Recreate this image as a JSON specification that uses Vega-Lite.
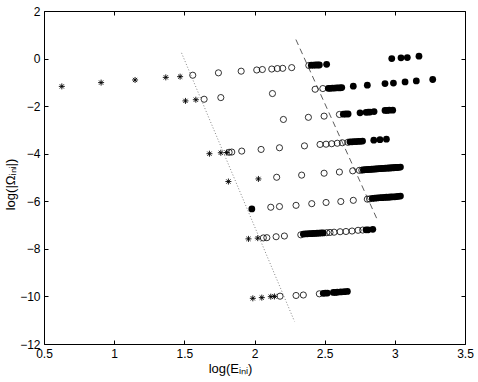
{
  "$schema": "https://vega.github.io/schema/vega-lite/v6.json",
  "width": 421,
  "height": 333,
  "autosize": {"type": "none"},
  "padding": {"left": 44, "top": 11, "right": 13, "bottom": 38},
  "background": "white",
  "config": {
    "view": {"stroke": "#000", "strokeWidth": 1},
    "axis": {
      "grid": false,
      "domain": false,
      "tickColor": "#000",
      "tickSize": -4,
      "labelFlush": false,
      "labelOverlap": false,
      "labelFont": "Liberation Sans",
      "labelFontSize": 12,
      "labelColor": "#000",
      "titleFont": "Liberation Sans",
      "titleFontSize": 13,
      "titleFontWeight": "normal",
      "titleColor": "#000"
    }
  },
  "data": {
    "values": [
      {"e": 1.48, "w": 0.24, "k": "dotted"},
      {"e": 2.285, "w": -11.05, "k": "dotted"},
      {"e": 2.295, "w": 0.80, "k": "dashed"},
      {"e": 2.877, "w": -6.80, "k": "dashed"},

      {"e": 1.560, "w": -0.70, "k": "open"},
      {"e": 1.743, "w": -0.60, "k": "open"},
      {"e": 1.905, "w": -0.53, "k": "open"},
      {"e": 2.016, "w": -0.48, "k": "open"},
      {"e": 2.056, "w": -0.46, "k": "open"},
      {"e": 2.123, "w": -0.44, "k": "open"},
      {"e": 2.163, "w": -0.42, "k": "open"},
      {"e": 2.201, "w": -0.41, "k": "open"},
      {"e": 2.265, "w": -0.38, "k": "open"},
      {"e": 2.387, "w": -0.29, "k": "open"},
      {"e": 2.432, "w": -1.29, "k": "open"},
      {"e": 2.487, "w": -1.26, "k": "open"},
      {"e": 1.641, "w": -1.71, "k": "open"},
      {"e": 1.760, "w": -1.64, "k": "open"},
      {"e": 2.128, "w": -1.47, "k": "open"},
      {"e": 2.206, "w": -2.56, "k": "open"},
      {"e": 2.384, "w": -2.47, "k": "open"},
      {"e": 2.496, "w": -2.42, "k": "open"},
      {"e": 2.605, "w": -2.35, "k": "open"},
      {"e": 1.819, "w": -3.94, "k": "open"},
      {"e": 1.838, "w": -3.93, "k": "open"},
      {"e": 1.909, "w": -3.89, "k": "open"},
      {"e": 2.047, "w": -3.82, "k": "open"},
      {"e": 2.178, "w": -3.75, "k": "open"},
      {"e": 2.356, "w": -3.67, "k": "open"},
      {"e": 2.467, "w": -3.61, "k": "open"},
      {"e": 2.510, "w": -3.60, "k": "open"},
      {"e": 2.550, "w": -3.58, "k": "open"},
      {"e": 2.590, "w": -3.56, "k": "open"},
      {"e": 2.626, "w": -3.54, "k": "open"},
      {"e": 2.665, "w": -3.52, "k": "open"},
      {"e": 2.158, "w": -4.99, "k": "open"},
      {"e": 2.336, "w": -4.90, "k": "open"},
      {"e": 2.496, "w": -4.82, "k": "open"},
      {"e": 2.605, "w": -4.77, "k": "open"},
      {"e": 2.700, "w": -4.72, "k": "open"},
      {"e": 2.747, "w": -4.70, "k": "open"},
      {"e": 2.765, "w": -4.69, "k": "open"},
      {"e": 2.116, "w": -6.25, "k": "open"},
      {"e": 2.178, "w": -6.22, "k": "open"},
      {"e": 2.296, "w": -6.17, "k": "open"},
      {"e": 2.408, "w": -6.10, "k": "open"},
      {"e": 2.510, "w": -6.05, "k": "open"},
      {"e": 2.615, "w": -6.01, "k": "open"},
      {"e": 2.704, "w": -5.96, "k": "open"},
      {"e": 2.804, "w": -5.91, "k": "open"},
      {"e": 2.820, "w": -5.90, "k": "open"},
      {"e": 2.063, "w": -7.54, "k": "open"},
      {"e": 2.088, "w": -7.53, "k": "open"},
      {"e": 2.154, "w": -7.49, "k": "open"},
      {"e": 2.213, "w": -7.46, "k": "open"},
      {"e": 2.330, "w": -7.41, "k": "open"},
      {"e": 2.515, "w": -7.32, "k": "open"},
      {"e": 2.538, "w": -7.31, "k": "open"},
      {"e": 2.567, "w": -7.30, "k": "open"},
      {"e": 2.610, "w": -7.28, "k": "open"},
      {"e": 2.652, "w": -7.27, "k": "open"},
      {"e": 2.695, "w": -7.25, "k": "open"},
      {"e": 2.738, "w": -7.22, "k": "open"},
      {"e": 2.771, "w": -7.21, "k": "open"},
      {"e": 2.182, "w": -9.99, "k": "open"},
      {"e": 2.296, "w": -9.96, "k": "open"},
      {"e": 2.348, "w": -9.94, "k": "open"},
      {"e": 2.462, "w": -9.89, "k": "open"},

      {"e": 2.405, "w": -0.28, "k": "filled"},
      {"e": 2.420, "w": -0.28, "k": "filled"},
      {"e": 2.435, "w": -0.27, "k": "filled"},
      {"e": 2.450, "w": -0.27, "k": "filled"},
      {"e": 2.462, "w": -0.27, "k": "filled"},
      {"e": 2.514, "w": -0.24, "k": "filled"},
      {"e": 2.978, "w": 0.00, "k": "filled"},
      {"e": 3.044, "w": 0.03, "k": "filled"},
      {"e": 3.089, "w": 0.04, "k": "filled"},
      {"e": 3.172, "w": 0.10, "k": "filled"},
      {"e": 2.526, "w": -1.25, "k": "filled"},
      {"e": 2.540, "w": -1.25, "k": "filled"},
      {"e": 2.555, "w": -1.24, "k": "filled"},
      {"e": 2.570, "w": -1.24, "k": "filled"},
      {"e": 2.585, "w": -1.23, "k": "filled"},
      {"e": 2.600, "w": -1.23, "k": "filled"},
      {"e": 2.612, "w": -1.23, "k": "filled"},
      {"e": 2.622, "w": -1.22, "k": "filled"},
      {"e": 2.704, "w": -1.16, "k": "filled"},
      {"e": 2.804, "w": -1.12, "k": "filled"},
      {"e": 2.930, "w": -1.05, "k": "filled"},
      {"e": 2.990, "w": -1.03, "k": "filled"},
      {"e": 3.073, "w": -0.98, "k": "filled"},
      {"e": 3.153, "w": -0.94, "k": "filled"},
      {"e": 3.270, "w": -0.88, "k": "filled"},
      {"e": 2.633, "w": -2.34, "k": "filled"},
      {"e": 2.650, "w": -2.33, "k": "filled"},
      {"e": 2.667, "w": -2.33, "k": "filled"},
      {"e": 2.752, "w": -2.28, "k": "filled"},
      {"e": 2.795, "w": -2.26, "k": "filled"},
      {"e": 2.810, "w": -2.25, "k": "filled"},
      {"e": 2.823, "w": -2.25, "k": "filled"},
      {"e": 2.852, "w": -2.23, "k": "filled"},
      {"e": 2.930, "w": -2.18, "k": "filled"},
      {"e": 2.945, "w": -2.18, "k": "filled"},
      {"e": 2.960, "w": -2.17, "k": "filled"},
      {"e": 2.985, "w": -2.17, "k": "filled"},
      {"e": 2.680, "w": -3.50, "k": "filled"},
      {"e": 2.695, "w": -3.50, "k": "filled"},
      {"e": 2.710, "w": -3.49, "k": "filled"},
      {"e": 2.725, "w": -3.49, "k": "filled"},
      {"e": 2.740, "w": -3.48, "k": "filled"},
      {"e": 2.755, "w": -3.48, "k": "filled"},
      {"e": 2.770, "w": -3.47, "k": "filled"},
      {"e": 2.850, "w": -3.43, "k": "filled"},
      {"e": 2.894, "w": -3.41, "k": "filled"},
      {"e": 2.940, "w": -3.39, "k": "filled"},
      {"e": 2.776, "w": -4.68, "k": "filled"},
      {"e": 2.788, "w": -4.67, "k": "filled"},
      {"e": 2.800, "w": -4.67, "k": "filled"},
      {"e": 2.812, "w": -4.66, "k": "filled"},
      {"e": 2.824, "w": -4.66, "k": "filled"},
      {"e": 2.836, "w": -4.65, "k": "filled"},
      {"e": 2.848, "w": -4.65, "k": "filled"},
      {"e": 2.860, "w": -4.64, "k": "filled"},
      {"e": 2.872, "w": -4.64, "k": "filled"},
      {"e": 2.884, "w": -4.63, "k": "filled"},
      {"e": 2.896, "w": -4.63, "k": "filled"},
      {"e": 2.908, "w": -4.62, "k": "filled"},
      {"e": 2.920, "w": -4.62, "k": "filled"},
      {"e": 2.932, "w": -4.61, "k": "filled"},
      {"e": 2.944, "w": -4.61, "k": "filled"},
      {"e": 2.956, "w": -4.60, "k": "filled"},
      {"e": 2.968, "w": -4.60, "k": "filled"},
      {"e": 2.980, "w": -4.59, "k": "filled"},
      {"e": 2.992, "w": -4.59, "k": "filled"},
      {"e": 3.004, "w": -4.58, "k": "filled"},
      {"e": 3.016, "w": -4.58, "k": "filled"},
      {"e": 3.028, "w": -4.57, "k": "filled"},
      {"e": 3.040, "w": -4.56, "k": "filled"},
      {"e": 1.981, "w": -6.32, "k": "filled"},
      {"e": 2.840, "w": -5.88, "k": "filled"},
      {"e": 2.858, "w": -5.87, "k": "filled"},
      {"e": 2.875, "w": -5.86, "k": "filled"},
      {"e": 2.895, "w": -5.85, "k": "filled"},
      {"e": 2.910, "w": -5.85, "k": "filled"},
      {"e": 2.925, "w": -5.84, "k": "filled"},
      {"e": 2.940, "w": -5.83, "k": "filled"},
      {"e": 2.955, "w": -5.83, "k": "filled"},
      {"e": 2.970, "w": -5.82, "k": "filled"},
      {"e": 2.985, "w": -5.81, "k": "filled"},
      {"e": 3.000, "w": -5.81, "k": "filled"},
      {"e": 3.012, "w": -5.80, "k": "filled"},
      {"e": 3.025, "w": -5.79, "k": "filled"},
      {"e": 3.040, "w": -5.78, "k": "filled"},
      {"e": 2.348, "w": -7.38, "k": "filled"},
      {"e": 2.362, "w": -7.37, "k": "filled"},
      {"e": 2.376, "w": -7.37, "k": "filled"},
      {"e": 2.390, "w": -7.36, "k": "filled"},
      {"e": 2.404, "w": -7.36, "k": "filled"},
      {"e": 2.418, "w": -7.35, "k": "filled"},
      {"e": 2.432, "w": -7.35, "k": "filled"},
      {"e": 2.446, "w": -7.34, "k": "filled"},
      {"e": 2.460, "w": -7.34, "k": "filled"},
      {"e": 2.475, "w": -7.33, "k": "filled"},
      {"e": 2.490, "w": -7.33, "k": "filled"},
      {"e": 2.795, "w": -7.20, "k": "filled"},
      {"e": 2.810, "w": -7.20, "k": "filled"},
      {"e": 2.843, "w": -7.18, "k": "filled"},
      {"e": 2.490, "w": -9.87, "k": "filled"},
      {"e": 2.505, "w": -9.86, "k": "filled"},
      {"e": 2.520, "w": -9.86, "k": "filled"},
      {"e": 2.562, "w": -9.83, "k": "filled"},
      {"e": 2.577, "w": -9.83, "k": "filled"},
      {"e": 2.590, "w": -9.82, "k": "filled"},
      {"e": 2.615, "w": -9.81, "k": "filled"},
      {"e": 2.640, "w": -9.80, "k": "filled"},
      {"e": 2.662, "w": -9.79, "k": "filled"},

      {"e": 0.627, "w": -1.17, "k": "star"},
      {"e": 0.907, "w": -1.01, "k": "star"},
      {"e": 1.149, "w": -0.90, "k": "star"},
      {"e": 1.368, "w": -0.79, "k": "star"},
      {"e": 1.470, "w": -0.76, "k": "star"},
      {"e": 1.508, "w": -1.78, "k": "star"},
      {"e": 1.582, "w": -1.73, "k": "star"},
      {"e": 1.679, "w": -4.00, "k": "star"},
      {"e": 1.760, "w": -3.96, "k": "star"},
      {"e": 1.802, "w": -3.95, "k": "star"},
      {"e": 1.814, "w": -5.17, "k": "star"},
      {"e": 2.028, "w": -5.06, "k": "star"},
      {"e": 1.957, "w": -7.58, "k": "star"},
      {"e": 2.023, "w": -7.55, "k": "star"},
      {"e": 1.988, "w": -10.08, "k": "star"},
      {"e": 2.052, "w": -10.05, "k": "star"},
      {"e": 2.116, "w": -10.01, "k": "star"},
      {"e": 2.142, "w": -10.00, "k": "star"}
    ]
  },
  "resolve": {"axis": {"x": "independent", "y": "independent"}},
  "layer": [
    {
      "transform": [{"filter": "datum.k === 'open'"}],
      "mark": {"type": "point", "shape": "circle", "filled": false, "stroke": "#000", "strokeWidth": 0.8, "size": 38, "opacity": 1},
      "encoding": {
        "x": {"field": "e", "type": "quantitative", "scale": {"domain": [0.5, 3.5], "nice": false, "zero": false},
              "axis": {"orient": "bottom", "values": [0.5, 1, 1.5, 2, 2.5, 3, 3.5], "format": "~g", "labelPadding": 8, "title": "log(Eᵢₙᵢ)", "titleX": 186, "titlePadding": 3}},
        "y": {"field": "w", "type": "quantitative", "scale": {"domain": [-12, 2], "nice": false, "zero": false},
              "axis": {"orient": "left", "values": [-12, -10, -8, -6, -4, -2, 0, 2], "format": "d", "labelPadding": 8, "title": "log(|Ωᵢₙᵢ|)", "titleY": 173, "titlePadding": 2}}
      }
    },
    {
      "transform": [{"filter": "datum.k === 'filled'"}],
      "mark": {"type": "point", "shape": "circle", "filled": true, "fill": "#000", "size": 46, "opacity": 1},
      "encoding": {
        "x": {"field": "e", "type": "quantitative", "axis": null},
        "y": {"field": "w", "type": "quantitative", "axis": null}
      }
    },
    {
      "transform": [{"filter": "datum.k === 'star'"}],
      "mark": {"type": "point", "shape": "M0,-1L0,1M-1,0L1,0M-0.7,-0.7L0.7,0.7M-0.7,0.7L0.7,-0.7", "filled": false, "stroke": "#000", "strokeWidth": 0.9, "size": 36, "opacity": 1},
      "encoding": {
        "x": {"field": "e", "type": "quantitative", "axis": null},
        "y": {"field": "w", "type": "quantitative", "axis": null}
      }
    },
    {
      "transform": [{"filter": "datum.k === 'dotted'"}],
      "mark": {"type": "line", "stroke": "#666", "strokeWidth": 0.8, "strokeDash": [1, 2]},
      "encoding": {
        "x": {"field": "e", "type": "quantitative", "axis": null},
        "y": {"field": "w", "type": "quantitative", "axis": null}
      }
    },
    {
      "transform": [{"filter": "datum.k === 'dashed'"}],
      "mark": {"type": "line", "stroke": "#333", "strokeWidth": 0.8, "strokeDash": [6, 4]},
      "encoding": {
        "x": {"field": "e", "type": "quantitative", "axis": null},
        "y": {"field": "w", "type": "quantitative", "axis": null}
      }
    },
    {
      "transform": [{"filter": "datum.k === 'dashed'"}],
      "mark": {"type": "point", "opacity": 0},
      "encoding": {
        "x": {"field": "e", "type": "quantitative",
              "axis": {"orient": "top", "values": [0.5, 1, 1.5, 2, 2.5, 3, 3.5], "labels": false, "title": null}},
        "y": {"field": "w", "type": "quantitative",
              "axis": {"orient": "right", "values": [-12, -10, -8, -6, -4, -2, 0, 2], "labels": false, "title": null}}
      }
    }
  ]
}
